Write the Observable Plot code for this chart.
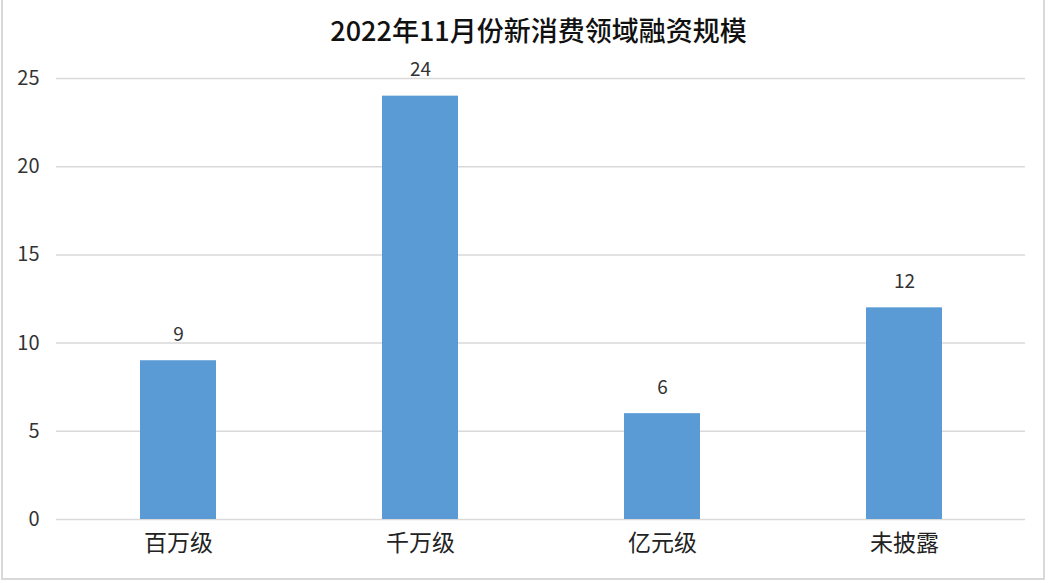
<!DOCTYPE html>
<html><head><meta charset="utf-8">
<script src="https://cdn.jsdelivr.net/npm/d3@7"></script>
<script src="https://cdn.jsdelivr.net/npm/@observablehq/plot@0.6"></script>
<style>
body{margin:0;background:#fff;font-family:"Noto Sans CJK SC","Noto Sans",sans-serif;}
#wrap{position:relative;width:1049px;height:583px;overflow:hidden;}
#frame{position:absolute;left:1px;top:-2px;width:1044px;height:582px;border:2px solid #d9d9d9;box-sizing:border-box;pointer-events:none;}
#title{position:absolute;left:0;top:10px;width:1077px;text-align:center;font-size:27px;font-weight:500;color:#111;line-height:40px;}
</style></head>
<body>
<div id="wrap"><div id="chart"></div><div id="title">2022年11月份新消费领域融资规模</div><div id="frame"></div></div>
<script>
const categories = ["百万级","千万级","亿元级","未披露"];
const values = [9, 24, 6, 12];
const yTicks = [0,5,10,15,20,25];
const data = categories.map((c,i)=>({c, v: values[i]}));
const chart = Plot.plot({
  width: 1049, height: 583,
  marginLeft: 56, marginRight: 24, marginTop: 78, marginBottom: 64,
  style: {fontFamily: '"Noto Sans CJK SC","Noto Sans",sans-serif', background: "transparent"},
  x: {domain: categories, paddingInner: 0.686, paddingOuter: 0.343, align: 0.5, label: null},
  y: {domain: [0,25], label: null},
  marks: [
    Plot.gridY(yTicks, {stroke: "#d9d9d9", strokeOpacity: 1, strokeWidth: 1.5}),
    Plot.barY(data, {x: "c", y: "v", fill: "#5b9bd5"}),
    Plot.text(data, {x: "c", y: "v", text: d => String(d.v), dy: -26, fontSize: 19, fill: "#333"}),
    Plot.axisY({ticks: yTicks, tickSize: 0, tickPadding: 17, fontSize: 20, color: "#333", label: null}),
    Plot.axisX({tickSize: 0, tickPadding: 15, fontSize: 23, color: "#222", label: null})
  ]
});
document.getElementById("chart").appendChild(chart);
</script>
</body></html>
